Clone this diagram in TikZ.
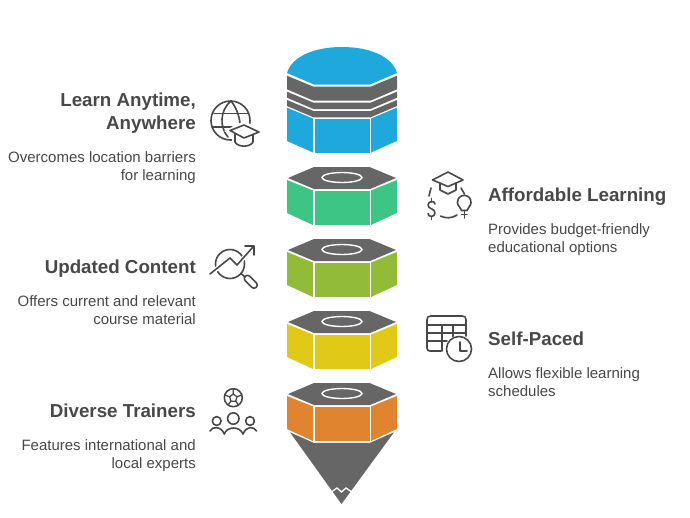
\documentclass[tikz,border=0pt]{standalone}
\usepackage{fontspec}
\setmainfont{Liberation Sans}
\definecolor{cblue}{HTML}{1FA8DC}
\definecolor{cgreen}{HTML}{3DC585}
\definecolor{colive}{HTML}{92BC38}
\definecolor{cyellow}{HTML}{E0CA17}
\definecolor{corange}{HTML}{E0842F}
\definecolor{cgrey}{HTML}{666666}
\definecolor{ctext}{HTML}{484848}
\definecolor{cicon}{HTML}{484848}
\tikzset{
 head/.style={font=\fontsize{18.75}{22}\selectfont\bfseries,text=ctext,inner sep=0pt,align=right},
 headr/.style={font=\fontsize{18.75}{22}\selectfont\bfseries,text=ctext,inner sep=0pt,align=left},
 body/.style={font=\fontsize{15}{18}\selectfont,text=ctext,inner sep=0pt,align=right},
 bodyr/.style={font=\fontsize{15}{18}\selectfont,text=ctext,inner sep=0pt,align=left},
 ico/.style={draw=cicon,line width=1.6pt,line cap=round,line join=round},
 ring/.style={draw=white,line width=1.4pt},
 pics/nut/.style={code={
  \fill[cgrey] (-27,11)--(-1,0)--(54.5,0)--(81,11)--(55,22)--(-1,22)--cycle;
  \draw[ring] (27,10.5) ellipse (20 and 5);
  \fill[#1] (-28,13)--(-2,23.5)--(-2,58)--(-28,46)--cycle;
  \fill[#1] (0,23.5)--(54.5,23.5)--(54.5,58)--(0,58)--cycle;
  \fill[#1] (81.8,13)--(56,23.5)--(56,58)--(81.8,46)--cycle;
 }}
}
\begin{document}
\begin{tikzpicture}[x=1pt,y=-1pt]
\useasboundingbox (0,0) rectangle (690,517);
\fill[white] (0,0) rectangle (690,517);
% top cylinder
\fill[cblue] (287,73) .. controls (292,56) and (315,47) .. (342,47) .. controls (369,47) and (392,56) .. (397,73) -- (370,84.5) -- (314,84.5) -- cycle;
\fill[cgrey] (287,75.7) -- (313.5,86.7) -- (370.5,86.7) -- (397,75.7) -- (397,89.3) -- (370.5,100.7) -- (313.5,100.7) -- (287,89.3) -- cycle;
\fill[cgrey] (287,91.7) -- (313.5,102.7) -- (370.5,102.7) -- (397,91.7) -- (397,97.7) -- (370.5,109) -- (313.5,109) -- (287,97.7) -- cycle;
\fill[cgrey] (287,100) -- (313.5,111) -- (370.5,111) -- (397,100) -- (397,106) -- (370.5,117.3) -- (313.5,117.3) -- (287,106) -- cycle;
\fill[cblue] (287,107.7) -- (313,118.5) -- (313,152.5) -- (287,141) -- cycle;
\fill[cblue] (315,119) -- (369.5,119) -- (369.5,152.5) -- (315,152.5) -- cycle;
\fill[cblue] (396.8,107.7) -- (371,118.5) -- (371,152.5) -- (396.8,141) -- cycle;
% nuts
\pic at (315,167) {nut=cgreen};
\pic at (315,239) {nut=colive};
\pic at (315,311) {nut=cyellow};
\pic at (315,383) {nut=corange};
% cone
\fill[cgrey] (290,432.3) -- (313.5,442.8) -- (370,442.8) -- (394,432.3) -- (341.5,504) -- cycle;
\draw[white,line width=1.3pt] (332,491.5) -- (337,488) -- (341.5,492) -- (346,488) -- (351,491.5);
% icon 1: globe and cap
\draw[ico] (230.5,120.5) circle (19.5);
\draw[ico] (231,101) .. controls (219,111) and (220,128) .. (228,137);
\draw[ico] (231,101) .. controls (236,107) and (239,115) .. (240,123);
\draw[ico] (214,113.3) -- (248,113.3);
\draw[ico] (212,126.7) -- (232,126.7);
\fill[white] (224,131) -- (244,121) -- (266,132) -- (244,143) -- cycle;
\fill[white] (232,134) rectangle (256,150);
\draw[ico] (230,130.5) -- (244,125) -- (259,132) -- (244,138) -- cycle;
\draw[ico] (235,134.5) -- (235,142) .. controls (238,147.5) and (250,147.5) .. (253,142) -- (253,135);
% icon 2
\draw[ico] (432.5,180) -- (448,172) -- (463,180) -- (448,186.5) -- cycle;
\draw[ico] (440,183) -- (440,190) -- (448,194) -- (456,190) -- (456,183);
\draw[ico] (431,188) -- (429,196);
\draw[ico] (461,188) -- (464.5,194);
\draw[ico] (435,204) .. controls (435,200.5) and (428,200.5) .. (428,205) .. controls (428,209.5) and (435,208) .. (435,213) .. controls (435,217.5) and (428,217.5) .. (428,213.5);
\draw[ico] (431.5,198.5) -- (431.5,202);
\draw[ico] (431.5,216.5) -- (431.5,219.5);
\draw[ico] (440.5,216) .. controls (445,218.5) and (452,218.5) .. (457,215);
\draw[ico] (461.5,210.5) .. controls (461,207) and (457.5,206.5) .. (457.5,202.5) .. controls (457.5,193) and (471,193) .. (471,202.5) .. controls (471,206.5) and (467.5,207) .. (467,210.5) -- cycle;
\draw[ico] (464.3,210.5) -- (464.3,218);
\draw[ico] (461.5,214.5) -- (467,214.5);
% icon 3
\draw[ico] (230,264) circle (14.5);
\draw[white,line width=4.5pt] (214,271) -- (230,258) -- (237,265) -- (249,252);
\draw[ico] (210,274) -- (230,258) -- (237,265) -- (253,247);
\draw[ico] (245,246) -- (254,246) -- (254,255);
\draw[ico] (241,273.5) -- (245,277);
\draw[ico,rounded corners=3pt] (243,278.5) -- (247.5,274) -- (258.5,285) -- (254,289.5) -- cycle;
% icon 4
\draw[ico] (441,351) -- (430,351) .. controls (428,351) and (427,350) .. (427,348) -- (427,320) .. controls (427,317) and (428,316) .. (431,316) -- (462,316) .. controls (465,316) and (466,317) .. (466,320) -- (466,336);
\draw[ico] (427,325) -- (466,325);
\draw[ico] (427,333) -- (466,333);
\draw[ico] (427,341) -- (447,341);
\draw[ico] (442,325) -- (442,351);
\draw[ico] (453,325) -- (453,337);
\fill[white] (459,349) circle (13.5);
\draw[ico] (459,349) circle (12.5);
\draw[ico] (460,342) -- (460,351) -- (467,351);
% icon 5
\draw[ico] (233.3,397.7) circle (9);
\draw[ico,line width=1.3pt] (233.3,394) -- (237,396.8) -- (235.6,401.2) -- (231,401.2) -- (229.6,396.8) -- cycle;
\draw[ico,line width=1.3pt] (233.3,394) -- (233.3,389) (237,396.8) -- (241.5,395) (235.6,401.2) -- (238.5,405) (231,401.2) -- (228,405) (229.6,396.8) -- (225,395);
\draw[ico] (233.3,418.5) circle (5.7);
\draw[ico] (216.7,421) circle (4.4);
\draw[ico] (250,421) circle (4.4);
\draw[ico] (210,431) .. controls (212,426) and (221,426) .. (224.3,434);
\draw[ico] (224.3,434) .. controls (227,426) and (240,426) .. (243,434);
\draw[ico] (243,434) .. controls (246,426) and (254,426) .. (256.5,431);
% texts
\node[head,anchor=base east] (t1a) at (196,106) {Learn Anytime,};
\node[head,anchor=base east] (t1b) at (196,129) {Anywhere};
\node[body,anchor=base east] (t1c) at (196,162) {Overcomes location barriers};
\node[body,anchor=base east] (t1d) at (196,180) {for learning};
\node[head,anchor=base east] (t3a) at (196,273) {Updated Content};
\node[body,anchor=base east] (t3b) at (196,306) {Offers current and relevant};
\node[body,anchor=base east] (t3c) at (196,324) {course material};
\node[head,anchor=base east] (t5a) at (196,417) {Diverse Trainers};
\node[body,anchor=base east] (t5b) at (196,450) {Features international and};
\node[body,anchor=base east] (t5c) at (196,468) {local experts};
\node[headr,anchor=base west] (t2a) at (488,201) {Affordable Learning};
\node[bodyr,anchor=base west] (t2b) at (488,234) {Provides budget-friendly};
\node[bodyr,anchor=base west] (t2c) at (488,252) {educational options};
\node[headr,anchor=base west] (t4a) at (488,345) {Self-Paced};
\node[bodyr,anchor=base west] (t4b) at (488,378) {Allows flexible learning};
\node[bodyr,anchor=base west] (t4c) at (488,396) {schedules};
\end{tikzpicture}
\end{document}
